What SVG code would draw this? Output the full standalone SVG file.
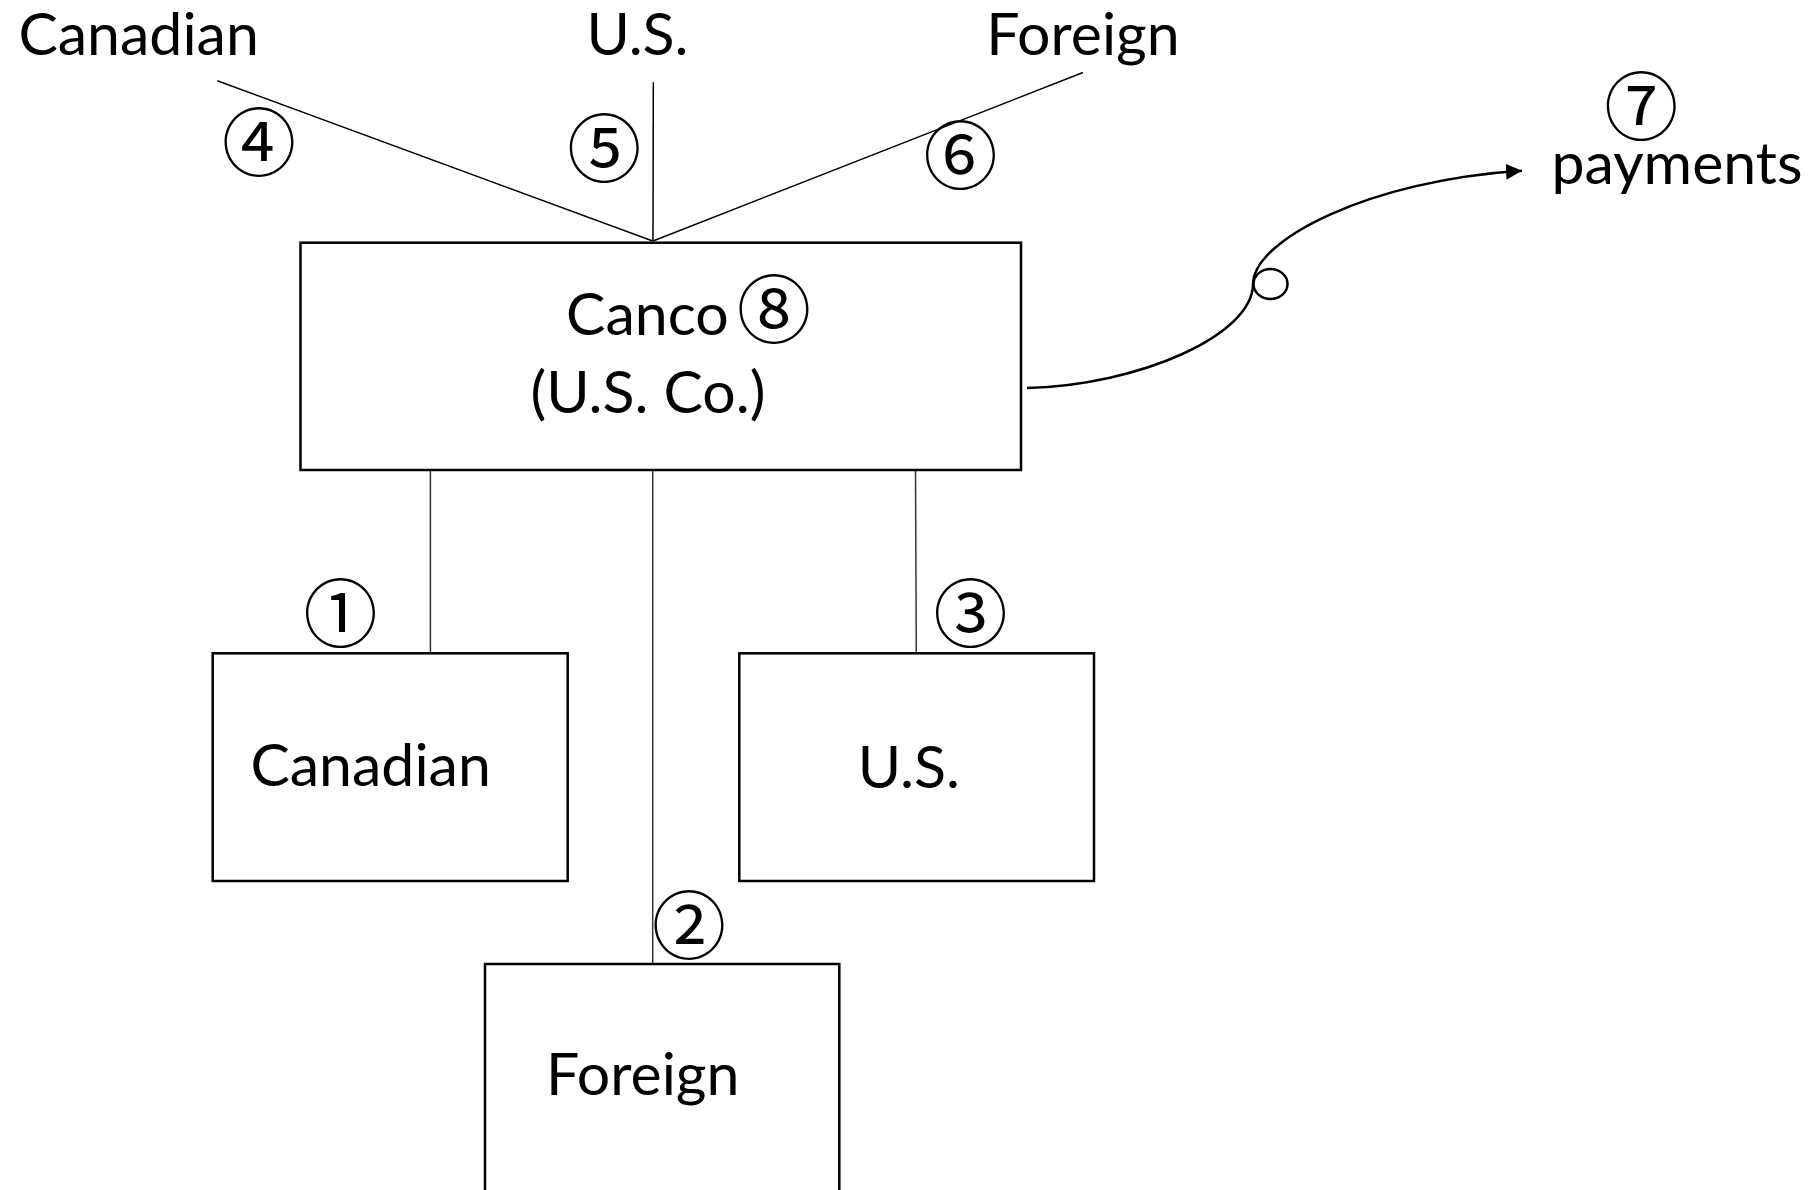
<svg xmlns="http://www.w3.org/2000/svg" width="1819" height="1190" viewBox="0 0 1819 1190">
<style>
.lbl{font-family:Lato,"Liberation Sans",sans-serif;font-size:59px;fill:#000;text-anchor:middle}
.lbl.start{text-anchor:start}
.num{font-family:"Noto Sans CJK JP","DejaVu Sans",sans-serif;font-size:74px;fill:#000;text-anchor:middle}
.box{fill:#fff;stroke:#000;stroke-width:2.5}
.thin{stroke:#000;stroke-width:1.5;fill:none}
.stem{stroke:#333;stroke-width:1.5;fill:none}
.flow{stroke:#000;stroke-width:2.5;fill:none}
</style>
<defs>
<marker id="arr" markerUnits="userSpaceOnUse" markerWidth="18" markerHeight="18" refX="16" refY="8" orient="auto">
<path d="M0,0 L16,8 L0,16 Z" fill="#000"/>
</marker>
</defs>
<rect width="1819" height="1190" fill="#fff"/>
<g id="connectors">
<line class="thin" x1="217.3" y1="80.7" x2="652.7" y2="241"/>
<line class="thin" x1="653.3" y1="82.3" x2="653" y2="241"/>
<line class="thin" x1="1083" y1="72.5" x2="653" y2="241"/>
<line class="stem" x1="430.4" y1="470" x2="430.4" y2="653"/>
<line class="stem" x1="652.7" y1="470" x2="652.7" y2="964"/>
<line class="stem" x1="915.5" y1="470" x2="916.3" y2="653"/>
<path class="flow" d="M1027,388 C1140,385 1253,335 1253,284 C1253,240 1370,180 1522,170.7" marker-end="url(#arr)"/>
<ellipse cx="1270.5" cy="284" rx="17" ry="15" fill="#fff" stroke="#000" stroke-width="2.5"/>
</g>
<g id="top-labels">
<text class="lbl" x="138.6" y="55">Canadian</text>
<text class="lbl" x="637.5" y="55">U.S.</text>
<text class="lbl" x="1083" y="55">Foreign</text>
<text class="num" x="259" y="170">④</text>
<text class="num" x="604.3" y="176">⑤</text>
<text class="num" x="960.5" y="183">⑥</text>
</g>
<g id="payments">
<text class="num" x="1641.3" y="134">⑦</text>
<text class="lbl" x="1677" y="184">payments</text>
</g>
<g id="canco">
<rect class="box" x="300.5" y="242.7" width="720.5" height="227.3"/>
<text class="lbl start" x="566" y="335">Canco</text>
<text class="num" x="774" y="337">⑧</text>
<text class="lbl" x="648" y="413">(U.S. Co.)</text>
</g>
<g id="canadian">
<rect class="box" x="212.7" y="653.3" width="355" height="227.7"/>
<text class="lbl" x="370.6" y="786">Canadian</text>
<text class="num" x="340.5" y="641">①</text>
</g>
<g id="us">
<rect class="box" x="739.3" y="653.3" width="354.7" height="227.7"/>
<text class="lbl" x="908.8" y="787.7">U.S.</text>
<text class="num" x="970.5" y="641">③</text>
</g>
<g id="foreign">
<rect class="box" x="485" y="964" width="354.3" height="240"/>
<text class="lbl" x="642.7" y="1095">Foreign</text>
<text class="num" x="689" y="953">②</text>
</g>
</svg>
